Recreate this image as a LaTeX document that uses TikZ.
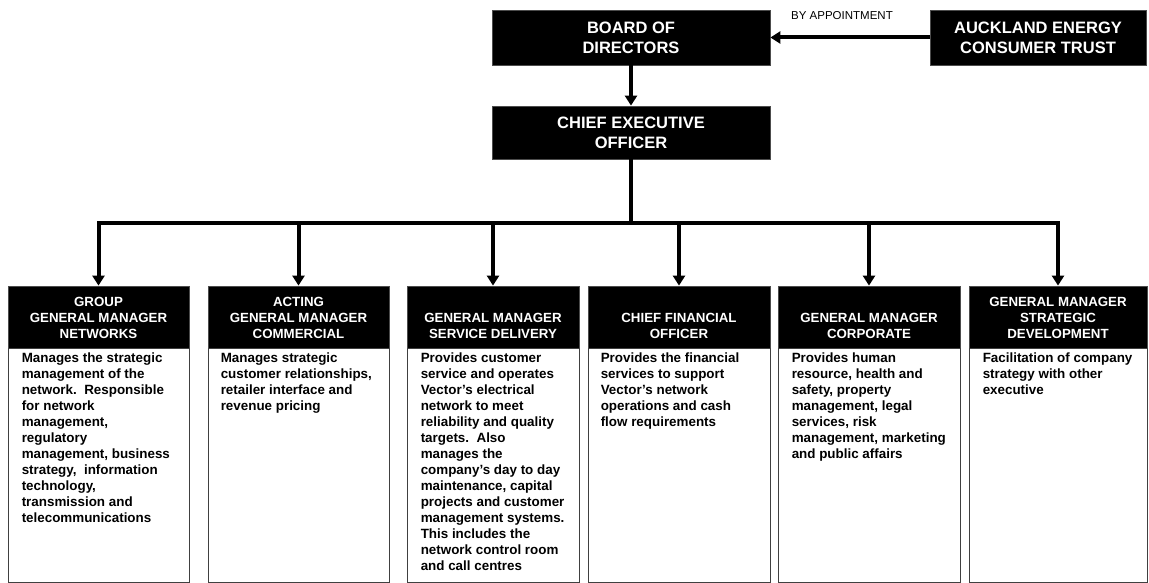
\documentclass[tikz,border=0pt]{standalone}
\usepackage{fontspec}
\setmainfont{Liberation Sans}
\usetikzlibrary{arrows.meta}
\begin{document}
\begin{tikzpicture}[x=1pt,y=-1pt,
  topbox/.style={fill=black, draw=black!70, line width=0.8pt, text=white,
    font=\fontsize{16.5}{20}\selectfont\bfseries, align=center, inner sep=0pt,
    minimum height=55pt},
  hdr/.style={fill=black, draw=black!70, line width=0.8pt, inner sep=0pt,
    minimum height=62pt},
  hdrtext/.style={text=white, font=\fontsize{13.3}{16}\selectfont\bfseries,
    align=center, inner sep=0pt, anchor=south},
  bodybox/.style={draw=black!75, line width=0.9pt, fill=white, inner sep=0pt,
    minimum height=234pt},
  bodytext/.style={font=\fontsize{13.4}{16}\selectfont\bfseries\frenchspacing,
    align=left, inner sep=0pt, anchor=north west},
  wire/.style={line width=4pt},
  conn/.style={line width=4pt, -{Triangle[length=10pt,width=12pt]}},
  note/.style={font=\fontsize{11.5}{14}\selectfont, inner sep=0pt, anchor=base west}
]
\useasboundingbox (0,0) rectangle (1149,583);

% top of the organisation
\node[topbox, minimum width=278pt] (board) at (631,37.5) {BOARD OF\\DIRECTORS};
\node[topbox, minimum width=216pt] (trust) at (1038,37.5) {AUCKLAND ENERGY\\CONSUMER TRUST};
\node[topbox, minimum width=278pt, minimum height=53pt] (ceo) at (631,132.5) {CHIEF EXECUTIVE\\OFFICER};
\node[note] (appt) at (791,20) {BY APPOINTMENT};

\draw[conn] (trust) -- (board);
\draw[conn] (board) -- (ceo);

% executive boxes: header bar and description panel
\node[hdr, minimum width=181pt] (h1) at (98.5,317) {};
\node[hdr, minimum width=181pt] (h2) at (298.5,317) {};
\node[hdr, minimum width=172pt] (h3) at (493,317) {};
\node[hdr, minimum width=182pt] (h4) at (679,317) {};
\node[hdr, minimum width=182pt] (h5) at (869,317) {};
\node[hdr, minimum width=178pt] (h6) at (1058,317) {};

\node[bodybox, minimum width=181pt] (b1) at (98.5,465) {};
\node[bodybox, minimum width=181pt] (b2) at (298.5,465) {};
\node[bodybox, minimum width=172pt] (b3) at (493,465) {};
\node[bodybox, minimum width=182pt] (b4) at (679,465) {};
\node[bodybox, minimum width=182pt] (b5) at (869,465) {};
\node[bodybox, minimum width=178pt] (b6) at (1058,465) {};

% header titles, resting on the bottom of each bar
\node[hdrtext] (t1) at ([yshift=5pt]h1.south) {GROUP\\GENERAL MANAGER\\NETWORKS\strut};
\node[hdrtext] (t2) at ([yshift=5pt]h2.south) {ACTING\\GENERAL MANAGER\\COMMERCIAL\strut};
\node[hdrtext] (t3) at ([yshift=5pt]h3.south) {GENERAL MANAGER\\SERVICE DELIVERY\strut};
\node[hdrtext] (t4) at ([yshift=5pt]h4.south) {CHIEF FINANCIAL\\OFFICER\strut};
\node[hdrtext] (t5) at ([yshift=5pt]h5.south) {GENERAL MANAGER\\CORPORATE\strut};
\node[hdrtext] (t6) at ([yshift=5pt]h6.south) {GENERAL MANAGER\\STRATEGIC\\DEVELOPMENT\strut};

% descriptions
\node[bodytext] (d1) at ([xshift=14pt,yshift=-3.8pt]b1.north west) {\strut Manages the strategic\\management of the\\network.~ Responsible\\for network\\management,\\regulatory\\management, business\\strategy,~ information\\technology,\\transmission and\\telecommunications};
\node[bodytext] (d2) at ([xshift=13pt,yshift=-3.8pt]b2.north west) {\strut Manages strategic\\customer relationships,\\retailer interface and\\revenue pricing};
\node[bodytext] (d3) at ([xshift=14pt,yshift=-3.8pt]b3.north west) {\strut Provides customer\\service and operates\\Vector’s electrical\\network to meet\\reliability and quality\\targets.~ Also\\manages the\\company’s day to day\\maintenance, capital\\projects and customer\\management systems.\\This includes the\\network control room\\and call centres};
\node[bodytext] (d4) at ([xshift=13pt,yshift=-3.8pt]b4.north west) {\strut Provides the financial\\services to support\\Vector’s network\\operations and cash\\flow requirements};
\node[bodytext] (d5) at ([xshift=14pt,yshift=-3.8pt]b5.north west) {\strut Provides human\\resource, health and\\safety, property\\management, legal\\services, risk\\management, marketing\\and public affairs};
\node[bodytext] (d6) at ([xshift=14pt,yshift=-3.8pt]b6.north west) {\strut Facilitation of company\\strategy with other\\executive};

% reporting lines from the chief executive
\coordinate (bus) at (631,223);
\draw[wire] (ceo) -- (bus);
\foreach \h in {h1,h2,h3,h4,h5,h6}
  \draw[conn] (bus) -| (\h);
\end{tikzpicture}
\end{document}
